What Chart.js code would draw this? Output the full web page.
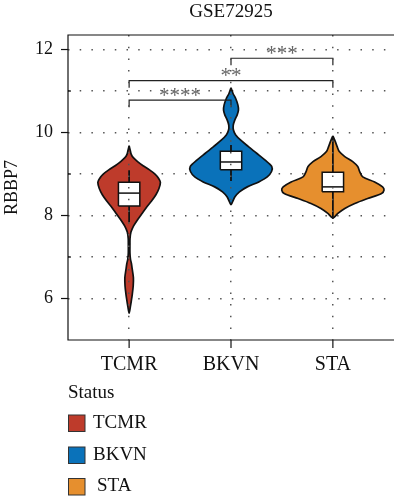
<!DOCTYPE html>
<html>
<head>
<meta charset="utf-8">
<script src="https://cdn.jsdelivr.net/npm/chart.js@4.4.1/dist/chart.umd.min.js"></script>
<style>
  html, body { margin: 0; padding: 0; background: #ffffff; }
  #wrap { width: 394px; height: 500px; }
  canvas { display: block; }
</style>
</head>
<body>
<div id="wrap"><canvas id="c" width="394" height="500"></canvas></div>
<script>
// ---------------- DATA ----------------
const chartTitle = 'GSE72925';
const yAxisTitle = 'RBBP7';
const legendTitle = 'Status';
const categories = ['TCMR', 'BKVN', 'STA'];
const groupColors = ['#BE3B2B', '#0A72BA', '#E68F2E'];

// violin outlines: expression values (top -> bottom) and half widths (category units)
const tcmrValues = [9.68, 9.58, 9.48, 9.40, 9.30, 9.20, 9.10, 9.00, 8.90, 8.80, 8.65, 8.50, 8.35, 8.20, 8.05, 7.90, 7.75, 7.60, 7.45, 7.30, 7.10, 6.95, 6.85, 6.70, 6.50, 6.30, 6.10, 5.95, 5.80, 5.65];
const tcmrHalf   = [0.000, 0.010, 0.020, 0.039, 0.083, 0.137, 0.200, 0.254, 0.288, 0.307, 0.293, 0.263, 0.220, 0.171, 0.127, 0.083, 0.044, 0.018, 0.009, 0.008, 0.008, 0.013, 0.022, 0.031, 0.042, 0.040, 0.031, 0.022, 0.012, 0.000];

const bkvnValues = [11.08, 10.94, 10.82, 10.66, 10.54, 10.42, 10.30, 10.18, 10.06, 9.94, 9.82, 9.66, 9.50, 9.34, 9.18, 9.06, 8.93, 8.81, 8.69, 8.57, 8.45, 8.33, 8.26];
const bkvnHalf   = [0.000, 0.020, 0.046, 0.068, 0.073, 0.060, 0.037, 0.022, 0.024, 0.046, 0.093, 0.171, 0.252, 0.332, 0.400, 0.398, 0.356, 0.273, 0.160, 0.083, 0.039, 0.015, 0.000];

const staValues = [9.92, 9.78, 9.66, 9.54, 9.42, 9.30, 9.18, 9.06, 8.93, 8.81, 8.69, 8.61, 8.53, 8.41, 8.29, 8.17, 8.05, 7.94];
const staHalf   = [0.000, 0.024, 0.042, 0.063, 0.117, 0.195, 0.244, 0.263, 0.293, 0.410, 0.488, 0.502, 0.478, 0.341, 0.215, 0.117, 0.049, 0.000];

// box plots
const boxLow  = [7.84, 8.83, 7.92];
const boxQ1   = [8.23, 9.10, 8.57];
const boxMed  = [8.54, 9.29, 8.69];
const boxQ3   = [8.80, 9.55, 9.04];
const boxHigh = [9.09, 9.70, 9.88];
const boxHalfWidth = 0.105;

// significance brackets
const sigFrom   = [1, 1, 2];
const sigTo     = [2, 3, 3];
const sigY      = [10.78, 11.25, 11.79];
const sigLabels = ['****', '**', '***'];
const sigLeg    = 0.17;

// axes
const yTicks = [6, 7, 8, 9, 10, 11, 12];
const yLabelTicks = [6, 8, 10, 12];
const xTicks = [1, 2, 3];
const yMin = 5.0, yMax = 12.35;
const xMin = 0.4, xMax = 3.6;

// ---------------- BUILD ----------------
const violinValues = [tcmrValues, bkvnValues, staValues];
const violinHalf = [tcmrHalf, bkvnHalf, staHalf];
const FONT = "'Liberation Serif', 'Times New Roman', serif";
const INK = '#111111';

function violinPoints(center, vals, half) {
  const pts = [];
  for (let i = 0; i < vals.length; i++) pts.push({ x: center + half[i], y: vals[i] });
  for (let i = vals.length - 2; i >= 0; i--) pts.push({ x: center - half[i], y: vals[i] });
  return pts;
}

const datasets = [];
categories.forEach((cat, g) => {
  const c = g + 1;
  datasets.push({
    label: cat + ' violin',
    data: violinPoints(c, violinValues[g], violinHalf[g]),
    showLine: true, fill: 'shape',
    backgroundColor: groupColors[g], borderColor: INK, borderWidth: 1.7,
    borderJoinStyle: 'round', pointRadius: 0, tension: 0.3, order: 5
  });
  datasets.push({
    label: cat + ' whisker',
    data: [{ x: c, y: boxLow[g] }, { x: c, y: boxHigh[g] }],
    showLine: true, fill: false, borderColor: INK, borderWidth: 1.8,
    pointRadius: 0, order: 4
  });
  datasets.push({
    label: cat + ' box',
    data: [
      { x: c - boxHalfWidth, y: boxQ1[g] }, { x: c + boxHalfWidth, y: boxQ1[g] },
      { x: c + boxHalfWidth, y: boxQ3[g] }, { x: c - boxHalfWidth, y: boxQ3[g] },
      { x: c - boxHalfWidth, y: boxQ1[g] }
    ],
    showLine: true, fill: 'shape', backgroundColor: '#ffffff',
    borderColor: INK, borderWidth: 1.5, pointRadius: 0, tension: 0, order: 3
  });
  datasets.push({
    label: cat + ' median',
    data: [{ x: c - boxHalfWidth, y: boxMed[g] }, { x: c + boxHalfWidth, y: boxMed[g] }],
    showLine: true, fill: false, borderColor: INK, borderWidth: 1.5,
    pointRadius: 0, order: 2
  });
});
sigFrom.forEach((f, i) => {
  datasets.push({
    label: 'bracket ' + sigLabels[i],
    data: [
      { x: f, y: sigY[i] - sigLeg }, { x: f, y: sigY[i] },
      { x: sigTo[i], y: sigY[i] }, { x: sigTo[i], y: sigY[i] - sigLeg }
    ],
    showLine: true, fill: false, borderColor: '#222222', borderWidth: 1.2,
    pointRadius: 0, order: 1
  });
});

const decorPlugin = {
  id: 'decor',
  afterDatasetsDraw(chart) {
    const { ctx, scales: { x, y } } = chart;
    ctx.save();
    ctx.fillStyle = '#666666';
    ctx.font = '21px ' + FONT;
    ctx.textAlign = 'center';
    ctx.textBaseline = 'alphabetic';
    sigLabels.forEach((lab, i) => {
      const px = (x.getPixelForValue(sigFrom[i]) + x.getPixelForValue(sigTo[i])) / 2;
      const py = y.getPixelForValue(sigY[i]);
      ctx.fillText(lab, px, py + 1.5);
    });
    ctx.restore();
  },
  afterDraw(chart) {
    const { ctx, chartArea: a, scales: { x, y } } = chart;
    ctx.save();
    // title
    ctx.fillStyle = INK;
    ctx.font = '19px ' + FONT;
    ctx.textAlign = 'center';
    ctx.textBaseline = 'middle';
    ctx.fillText(chartTitle, (a.left + a.right) / 2, 12);
    // frame (left, top, bottom)
    ctx.strokeStyle = INK;
    ctx.lineWidth = 1.2;
    ctx.beginPath();
    ctx.moveTo(a.right, a.top);
    ctx.lineTo(a.left, a.top);
    ctx.lineTo(a.left, a.bottom);
    ctx.lineTo(a.right, a.bottom);
    ctx.stroke();
    // x tick marks
    xTicks.forEach(v => {
      const px = x.getPixelForValue(v);
      ctx.beginPath();
      ctx.moveTo(px, a.bottom);
      ctx.lineTo(px, a.bottom + 8);
      ctx.stroke();
    });
    // y tick marks (outside for labelled, short inside for minor)
    yTicks.forEach(v => {
      const py = y.getPixelForValue(v);
      ctx.beginPath();
      if (yLabelTicks.includes(v)) {
        ctx.moveTo(a.left - 7, py);
        ctx.lineTo(a.left, py);
      } else {
        ctx.moveTo(a.left, py);
        ctx.lineTo(a.left + 3, py);
      }
      ctx.stroke();
    });
    // legend
    ctx.font = '19px ' + FONT;
    ctx.textAlign = 'left';
    ctx.textBaseline = 'middle';
    ctx.fillStyle = INK;
    ctx.fillText(legendTitle, 68, 393);
    const rows = [423, 455, 486.5];
    categories.forEach((cat, i) => {
      ctx.fillStyle = groupColors[i];
      ctx.fillRect(68.5, rows[i] - 8, 16.5, 16.5);
      ctx.strokeStyle = '#333333';
      ctx.lineWidth = 1;
      ctx.strokeRect(68.5, rows[i] - 8, 16.5, 16.5);
      ctx.fillStyle = INK;
      ctx.fillText(cat, cat === 'STA' ? 97 : 93, rows[i]);
    });
    ctx.restore();
  }
};

new Chart(document.getElementById('c'), {
  type: 'scatter',
  data: { datasets },
  plugins: [decorPlugin],
  options: {
    responsive: false,
    animation: false,
    devicePixelRatio: 1,
    layout: { padding: { top: 35, left: 0, right: 0, bottom: 0 } },
    plugins: {
      legend: { display: false },
      tooltip: { enabled: false },
      title: { display: false }
    },
    scales: {
      x: {
        type: 'linear', min: xMin, max: xMax,
        afterBuildTicks: s => { s.ticks = xTicks.map(v => ({ value: v })); },
        afterFit: s => { s.height = 160; },
        ticks: {
          callback: v => categories[v - 1] || '',
          font: { family: FONT, size: 20 }, color: INK, padding: 5,
          autoSkip: false, maxRotation: 0
        },
        grid: {
          color: '#555555', lineWidth: 1.5, z: 1,
          tickLength: 8, tickColor: 'rgba(0,0,0,0)'
        },
        border: { display: false, dash: [1.5, 10.2] }
      },
      y: {
        type: 'linear', min: yMin, max: yMax,
        afterBuildTicks: s => { s.ticks = yTicks.map(v => ({ value: v })); },
        afterFit: s => { s.width = 68; },
        ticks: {
          callback: v => yLabelTicks.includes(v) ? String(v) : '',
          font: { family: FONT, size: 18 }, color: INK, padding: 8, autoSkip: false
        },
        grid: {
          color: '#555555', lineWidth: 1.5, z: -1,
          tickLength: 7, tickColor: 'rgba(0,0,0,0)'
        },
        border: { display: false, dash: [1.5, 10.2] },
        title: {
          display: true, text: yAxisTitle, color: INK,
          font: { family: FONT, size: 18 }, padding: { top: 1, bottom: 0 }
        }
      }
    }
  }
});
</script>
</body>
</html>
